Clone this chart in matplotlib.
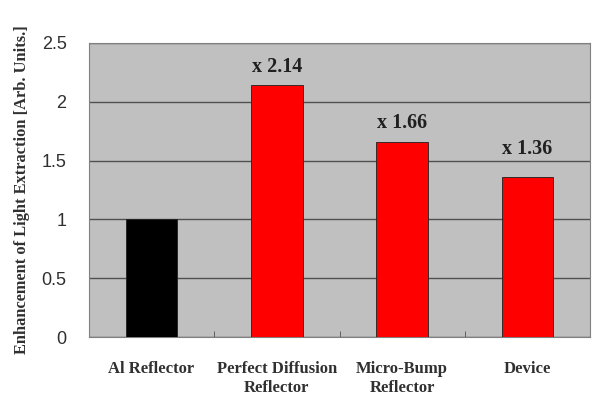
import matplotlib.pyplot as plt
import numpy as np

categories = ["Al Reflector", "Perfect Diffusion\nReflector", "Micro-Bump\nReflector", "Device"]
values = [1.0, 2.14, 1.66, 1.36]
labels = [None, "x 2.14", "x 1.66", "x 1.36"]
colors = ["#000000", "#FF0000", "#FF0000", "#FF0000"]
yticks = [0, 0.5, 1, 1.5, 2, 2.5]
ytick_labels = ["0", "0.5", "1", "1.5", "2", "2.5"]

fig = plt.figure(figsize=(5.92, 3.97), dpi=100)
ax = fig.add_axes([0.150, 0.151, 0.847, 0.741])
ax.set_facecolor("#C0C0C0")

x = np.arange(len(categories))
ax.bar(x, values, width=0.41, color=colors, edgecolor="#202020", linewidth=0.6, zorder=3)
label_gap = {1: 0.07, 2: 0.07, 3: 0.15}
for xi, v, lab in zip(x, values, labels):
    if lab:
        ax.text(xi, v + label_gap[xi], lab, ha="center", va="bottom", fontsize=14.5,
                fontweight="bold", family="Liberation Serif", color="#202020")

ax.set_xlim(-0.5, len(categories) - 0.5)
ax.set_ylim(0, 2.5)
ax.set_yticks(yticks)
ax.set_yticklabels(ytick_labels, family="Liberation Sans", fontsize=13, color="#303030")
ax.yaxis.grid(True, color="#505050", linewidth=1.0, zorder=1)
ax.set_axisbelow(True)

ax.set_xticks(x)
ax.set_xticklabels(categories, family="Liberation Serif", fontweight="bold", fontsize=12,
                   color="#303030", linespacing=1.3)
ax.tick_params(axis="x", length=0, pad=17)
ax.set_xticks(np.arange(len(categories) + 1) - 0.5, minor=True)
ax.tick_params(axis="x", which="minor", length=4, direction="in", color="#505050")
ax.tick_params(axis="y", length=0, pad=16)

for s in ax.spines.values():
    s.set_color("#808080")
    s.set_linewidth(0.8)

ax.set_ylabel("Enhancement of Light Extraction [Arb. Units.]", family="Liberation Serif",
              fontweight="bold", fontsize=11.8, color="#303030", labelpad=8)

fig.savefig("out.png", dpi=100)
